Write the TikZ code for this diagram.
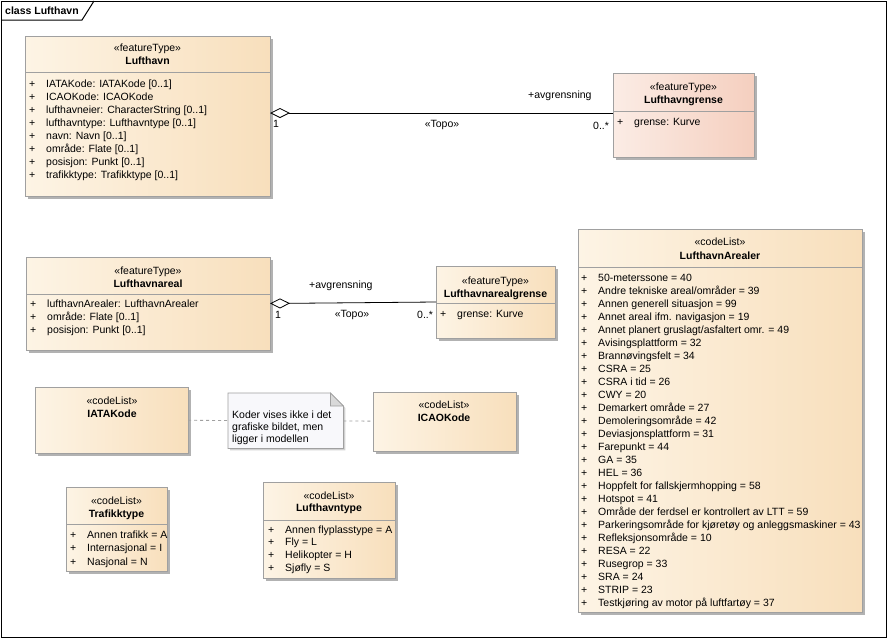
\documentclass[tikz,border=0pt]{standalone}
\usepackage{fontspec}
\setmainfont{Liberation Sans}
\usetikzlibrary{arrows.meta, shadows, positioning}
\definecolor{featleft}{RGB}{253,244,229}
\definecolor{featright}{RGB}{248,223,188}
\definecolor{bndleft}{RGB}{251,236,229}
\definecolor{bndright}{RGB}{245,207,191}
\definecolor{boxgray}{RGB}{160,160,160}
\definecolor{shadegray}{RGB}{178,178,178}
\definecolor{notefill}{RGB}{248,248,251}
\newcommand{\plusattr}[1]{\makebox[17pt][l]{+}#1}

\begin{document}
\begin{tikzpicture}[
  x=1pt, y=-1pt,
  umlbox/.style={draw=boxgray, line width=0.8pt, anchor=north west, inner sep=0pt, outer sep=0pt,
    left color=featleft, right color=featright,
    drop shadow={shadow xshift=3pt, shadow yshift=-3pt, fill=shadegray, opacity=1}},
  bndbox/.style={umlbox, left color=bndleft, right color=bndright},
  stereo/.style={anchor=base, inner sep=0pt, font=\fontsize{10.5}{13}\selectfont},
  cname/.style={anchor=base, inner sep=0pt, font=\fontsize{10.5}{13}\selectfont\bfseries},
  attr/.style={anchor=base west, inner sep=0pt, font=\fontsize{10.5}{13}\selectfont},
  sepline/.style={draw=boxgray, line width=0.8pt},
  assoc/.style={line width=0.8pt, {Diamond[open, fill=white, length=20pt, width=10pt]}-},
  role/.style={anchor=base west, inner sep=0pt, font=\fontsize{10.5}{13}\selectfont},
  notelink/.style={draw=boxgray, line width=0.8pt, dash pattern=on 3pt off 3pt},
]
  \useasboundingbox (0,0) rectangle (887,638);

  % Frame
  \draw[line width=1pt] (1,1) rectangle (886,637);
  \draw[line width=1pt] (1,20) -- (82,20) -- (94,1);
  \node[attr, font=\fontsize{10.5}{13}\selectfont\bfseries] (title) at (5,14) {class Lufthavn};

  % Lufthavn
  \node[umlbox, minimum width=245pt, minimum height=160pt] (lufthavn) at (25,36) {};
  \draw[sepline] (lufthavn.west |- 0,72) -- (lufthavn.east |- 0,72);
  \node[stereo] (lufthavn-st) at (147.5,51) {«featureType»};
  \node[cname] (lufthavn-nm) at (147.5,64) {Lufthavn};
  \foreach \a [count=\i from 0] in {IATAKode: IATAKode [0..1], ICAOKode: ICAOKode,
      lufthavneier: CharacterString [0..1], lufthavntype: Lufthavntype [0..1],
      navn: Navn [0..1], område: Flate [0..1], posisjon: Punkt [0..1],
      trafikktype: Trafikktype [0..1]}
    \node[attr] (lufthavn-a\i) at (29,{87+13*\i}) {\plusattr{\a}};

  % Lufthavngrense
  \node[bndbox, minimum width=141pt, minimum height=84pt] (grense) at (613,73) {};
  \draw[sepline] (grense.west |- 0,111) -- (grense.east |- 0,111);
  \node[stereo] (grense-st) at (683.5,90) {«featureType»};
  \node[cname] (grense-nm) at (683.5,103) {Lufthavngrense};
  \node[attr] (grense-a0) at (617,125) {\plusattr{grense: Kurve}};

  % Lufthavnareal
  \node[umlbox, minimum width=244pt, minimum height=93pt] (areal) at (26,257) {};
  \draw[sepline] (areal.west |- 0,294) -- (areal.east |- 0,294);
  \node[stereo] (areal-st) at (148,274) {«featureType»};
  \node[cname] (areal-nm) at (148,287) {Lufthavnareal};
  \foreach \a [count=\i from 0] in {lufthavnArealer: LufthavnArealer, område: Flate [0..1],
      posisjon: Punkt [0..1]}
    \node[attr] (areal-a\i) at (30,{307+13*\i}) {\plusattr{\a}};

  % Lufthavnarealgrense
  \node[umlbox, minimum width=119pt, minimum height=72pt] (arealgrense) at (436,266) {};
  \draw[sepline] (arealgrense.west |- 0,303) -- (arealgrense.east |- 0,303);
  \node[stereo] (arealgrense-st) at (495.5,284) {«featureType»};
  \node[cname] (arealgrense-nm) at (495.5,297) {Lufthavnarealgrense};
  \node[attr] (arealgrense-a0) at (440,317) {\plusattr{grense: Kurve}};

  % LufthavnArealer
  \node[umlbox, minimum width=284pt, minimum height=383pt] (arealer) at (578,229) {};
  \draw[sepline] (arealer.west |- 0,267) -- (arealer.east |- 0,267);
  \node[stereo] (arealer-st) at (720,245) {«codeList»};
  \node[cname] (arealer-nm) at (720,259) {LufthavnArealer};
  \foreach \a [count=\i from 0] in {50-meterssone = 40, {Andre tekniske areal/områder = 39},
      Annen generell situasjon = 99, Annet areal ifm. navigasjon = 19,
      {Annet planert gruslagt/asfaltert omr. = 49}, Avisingsplattform = 32,
      Brannøvingsfelt = 34, CSRA = 25, CSRA i tid = 26, CWY = 20,
      Demarkert område = 27, Demoleringsområde = 42, Deviasjonsplattform = 31,
      Farepunkt = 44, GA = 35, HEL = 36, Hoppfelt for fallskjermhopping = 58,
      Hotspot = 41, Område der ferdsel er kontrollert av LTT = 59,
      Parkeringsområde for kjøretøy og anleggsmaskiner = 43, Refleksjonsområde = 10,
      RESA = 22, Rusegrop = 33, SRA = 24, STRIP = 23,
      Testkjøring av motor på luftfartøy = 37}
    \node[attr] (arealer-a\i) at (581,{281+13*\i}) {\plusattr{\a}};

  % IATAKode, note and ICAOKode
  \node[umlbox, minimum width=153pt, minimum height=66pt] (iata) at (35,387) {};
  \node[stereo] (iata-st) at (112,404) {«codeList»};
  \node[cname] (iata-nm) at (112,417) {IATAKode};

  \node[anchor=north west, inner sep=0pt, minimum width=115pt, minimum height=55pt] (note) at (228,393) {};
  \filldraw[draw=boxgray, fill=notefill, line width=0.8pt,
      drop shadow={shadow xshift=2pt, shadow yshift=-2pt, fill=shadegray!60, opacity=1}]
    (note.north west) -- ([xshift=-13pt]note.north east) -- ([yshift=-13pt]note.north east)
    -- (note.south east) -- (note.south west) -- cycle;
  \filldraw[draw=boxgray, fill=boxgray!40, line width=0.8pt]
    ([xshift=-13pt]note.north east) -- ([xshift=-13pt, yshift=-13pt]note.north east)
    -- ([yshift=-13pt]note.north east) -- cycle;
  \node[anchor=north west, inner sep=0pt, align=left, font=\fontsize{10.5}{12}\selectfont] (note-txt) at (232,411)
    {Koder vises ikke i det\\grafiske bildet, men\\ligger i modellen};

  \node[umlbox, minimum width=143pt, minimum height=59pt] (icao) at (373,392) {};
  \node[stereo] (icao-st) at (444,408) {«codeList»};
  \node[cname] (icao-nm) at (444,421) {ICAOKode};

  \draw[notelink] (iata) -- (note);
  \draw[notelink] (note) -- (icao);

  % Trafikktype
  \node[umlbox, minimum width=101pt, minimum height=84pt] (trafikk) at (66,487) {};
  \draw[sepline] (trafikk.west |- 0,524) -- (trafikk.east |- 0,524);
  \node[stereo] (trafikk-st) at (116.5,504) {«codeList»};
  \node[cname] (trafikk-nm) at (116.5,517) {Trafikktype};
  \foreach \a [count=\i from 0] in {Annen trafikk = A, Internasjonal = I, Nasjonal = N}
    \node[attr] (trafikk-a\i) at (70,{538+13.5*\i}) {\plusattr{\a}};

  % Lufthavntype
  \node[umlbox, minimum width=132pt, minimum height=96pt] (type) at (263,482) {};
  \draw[sepline] (type.west |- 0,520) -- (type.east |- 0,520);
  \node[stereo] (type-st) at (329,499) {«codeList»};
  \node[cname] (type-nm) at (329,511) {Lufthavntype};
  \foreach \a [count=\i from 0] in {Annen flyplasstype = A, Fly = L, Helikopter = H, Sjøfly = S}
    \node[attr] (type-a\i) at (268,{533+12.7*\i}) {\plusattr{\a}};

  % Associations
  \draw[assoc] ([yshift=3pt]lufthavn.east) -- ([yshift=2pt]grense.west);
  \node[role] (r1) at (528,98) {+avgrensning};
  \node[stereo] (t1) at (442,127) {«Topo»};
  \node[role] (m1) at (273,127) {1};
  \node[role] (n1) at (593,129) {0..*};

  \draw[assoc] (areal.east) -- (arealgrense.west);
  \node[role] (r2) at (309,288) {+avgrensning};
  \node[stereo] (t2) at (352,317) {«Topo»};
  \node[role] (m2) at (275,318) {1};
  \node[role] (n2) at (417,318) {0..*};
\end{tikzpicture}
\end{document}
